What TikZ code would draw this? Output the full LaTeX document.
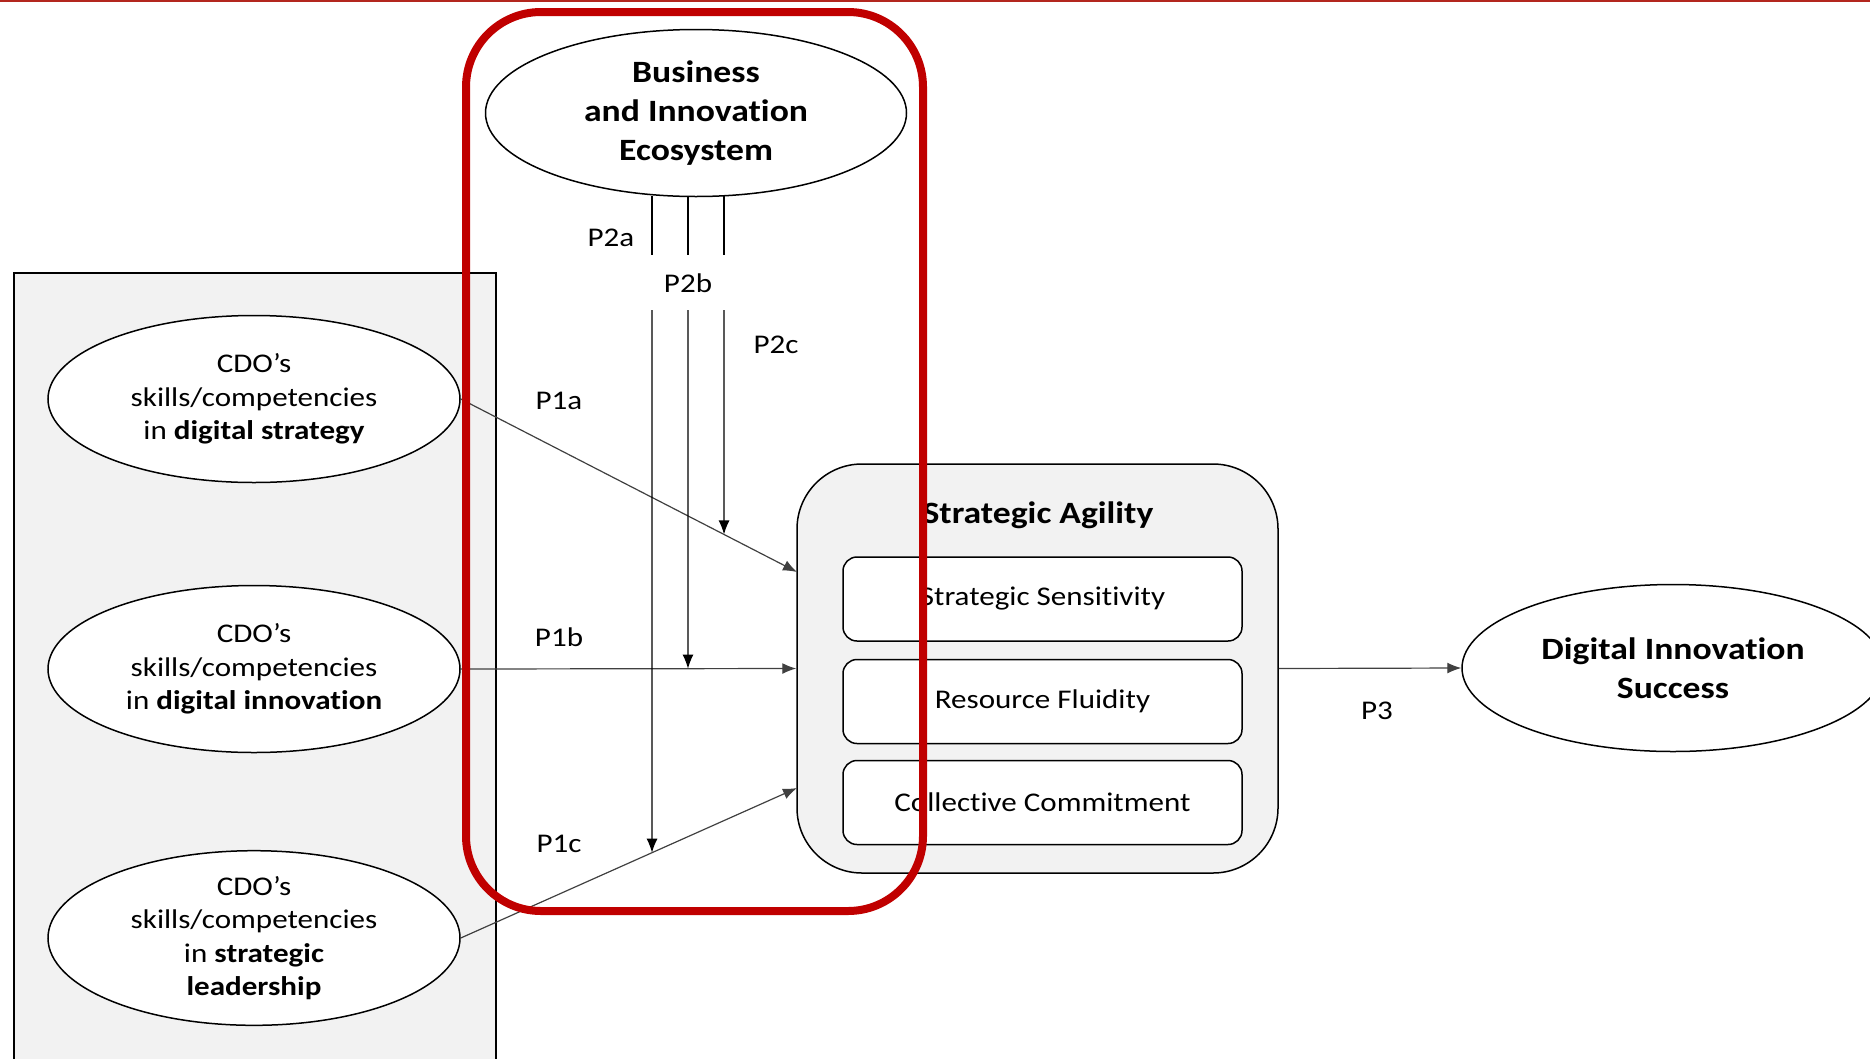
\documentclass[tikz,border=0pt]{standalone}
\usepackage{fontspec}
\setmainfont{Carlito}[FakeStretch=1.15,Ligatures=CommonOff]
\usetikzlibrary{shapes.geometric,arrows.meta}
\definecolor{boxgrey}{HTML}{F2F2F2}
\definecolor{pptred}{HTML}{C00000}
\definecolor{topred}{HTML}{B3261E}
\begin{document}
\begin{tikzpicture}[x=1pt,y=-1pt,
  cdo/.style={ellipse,draw,line width=1.5pt,fill=white,minimum width=412pt,minimum height=167pt,inner sep=0pt,align=center,font=\fontsize{27}{33.4}\selectfont},
  big/.style={ellipse,draw,line width=1.5pt,fill=white,inner sep=0pt,align=center,font=\bfseries\fontsize{31}{39}\selectfont},
  dimbox/.style={draw,line width=1.5pt,fill=white,rounded corners=14pt,minimum width=399pt,minimum height=84pt,inner sep=0pt,font=\fontsize{27}{33}\selectfont},
  plab/.style={font=\fontsize{27}{33}\selectfont,inner sep=0pt},
  conn/.style={draw=black!75,line width=1.2pt,-{Latex[length=14pt,width=11pt]}},
  vline/.style={draw=black,line width=1.3pt},
  varrow/.style={vline,-{Latex[length=14pt,width=11pt]}},
]
\useasboundingbox (0,0) rectangle (1870,1058);
\clip (0,0) rectangle (1870,1058);

% top rule
\draw[topred,line width=2.5pt] (0,1) -- (1870,1);

% left grey panel
\node[draw=black,fill=boxgrey,line width=1.5pt,minimum width=482pt,minimum height=820pt,inner sep=0pt] (panel) at (255,683) {};

% CDO ellipses
\node[cdo] (e1) at (254,399) {CDO’s\\skills/competencies\\in \textbf{digital strategy}};
\node[cdo] (e2) at (254,669) {CDO’s\\skills/competencies\\in \textbf{digital innovation}};
\node[cdo] (e3) at (254,938) {CDO’s\\skills/competencies\\in \textbf{strategic}\\\textbf{leadership}};

% ecosystem
\node[big,minimum width=421pt,minimum height=167pt] (eco) at (696,113) {Business\\and Innovation\\Ecosystem};

% strategic agility
\node[draw,fill=boxgrey,line width=1.5pt,rounded corners=65pt,minimum width=481pt,minimum height=409pt,inner sep=0pt] (sa) at (1037.5,668.5) {};
\node[font=\bfseries\fontsize{31}{37}\selectfont,inner sep=0pt] (satitle) at (1038,515) {Strategic Agility};
\node[dimbox] (d1) at (1042.5,599) {Strategic Sensitivity};
\node[dimbox] (d2) at (1042.5,701.5) {Resource Fluidity};
\node[dimbox] (d3) at (1042.5,802.5) {Collective Commitment};

% outcome
\node[big,minimum width=422pt,minimum height=167pt] (dis) at (1673,668) {Digital Innovation\\Success};

% targets on SA box
\coordinate (t1) at (797,572);
\coordinate (t3) at (797,788);

% P1 arrows
\draw[conn] (e1.east) -- (t1);
\draw[conn] (e2.east) -- (sa.west);
\draw[conn] (e3.east) -- (t3);

% P3
\draw[conn] (sa.east) -- (dis.west);

% P2 moderation lines
\coordinate (a1) at (652,196); \coordinate (b1) at (652,255);
\coordinate (a2) at (688,197); \coordinate (b2) at (688,255);
\coordinate (a3) at (724,195); \coordinate (b3) at (724,255);
\coordinate (c1) at (652,310); \coordinate (f1) at (652,1000);
\coordinate (c2) at (688,310); \coordinate (f2) at (688,1000);
\coordinate (c3) at (724,310); \coordinate (f3) at (724,1000);
\draw[vline] (a1) -- (b1);
\draw[vline] (a2) -- (b2);
\draw[vline] (a3) -- (b3);
\draw[varrow] (c1) -- (intersection of c1--f1 and e3.east--t3);
\draw[varrow] (c2) -- (intersection of c2--f2 and e2.east--sa.west);
\draw[varrow] (c3) -- (intersection of c3--f3 and e1.east--t1);

% labels
\node[plab] (p2a) at (611,238) {P2a};
\node[plab] (p2b) at (688,283) {P2b};
\node[plab] (p2c) at (776,345) {P2c};
\node[plab] (p1a) at (559,401) {P1a};
\node[plab] (p1b) at (559,637) {P1b};
\node[plab] (p1c) at (559,844) {P1c};
\node[plab] (p3) at (1377,711) {P3};

% red highlight frame
\node[draw=pptred,line width=8pt,rounded corners=75pt,minimum width=457pt,minimum height=899pt,inner sep=0pt] (focus) at (694.5,461.5) {};
\end{tikzpicture}
\end{document}
